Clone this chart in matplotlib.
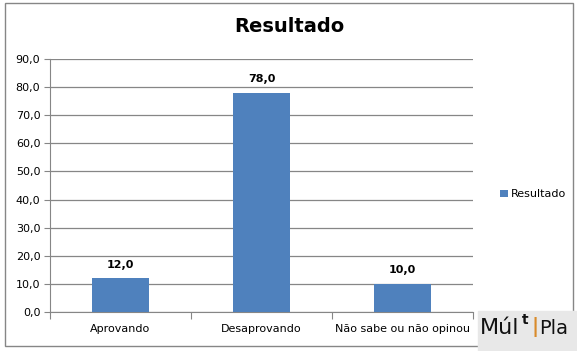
import matplotlib
matplotlib.use("Agg")
import matplotlib.pyplot as plt
from matplotlib.patches import Rectangle

categories = ["Aprovando", "Desaprovando", "Não sabe ou não opinou"]
values = [12.0, 78.0, 10.0]
series_name = "Resultado"
yticks = [0, 10, 20, 30, 40, 50, 60, 70, 80, 90]

bar_color = "#4F81BD"
grid_color = "#868686"

fig = plt.figure(figsize=(5.77, 3.51), dpi=100)
fig.patch.set_facecolor("white")

# outer chart border
fig.patches.append(Rectangle((5 / 577, 1 - 346 / 351), 568 / 577, 343 / 351,
                             transform=fig.transFigure, fill=False,
                             edgecolor=grid_color, linewidth=1))

ax = fig.add_axes([50 / 577, 1 - 312 / 351, 423 / 577, 253 / 351])
x = range(len(categories))
bars = ax.bar(x, values, width=0.4, color=bar_color, label=series_name, zorder=3)

ax.set_xlim(-0.5, len(categories) - 0.5)
ax.set_ylim(0, 90)
ax.set_yticks(yticks)
ax.set_yticklabels([f"{v:.1f}".replace(".", ",") for v in yticks], fontsize=8)
ax.yaxis.grid(True, color=grid_color, linewidth=0.9, zorder=0)
ax.tick_params(axis="y", length=4, color=grid_color, pad=3)

# category labels centred, tick marks at boundaries
ax.set_xticks([i - 0.5 for i in range(len(categories) + 1)])
ax.set_xticklabels([])
ax.tick_params(axis="x", length=5, color=grid_color)
for i, c in enumerate(categories):
    ax.text(i, -4.2, c, ha="center", va="top", fontsize=8)

for s in ["top", "right"]:
    ax.spines[s].set_visible(False)
for s in ["left", "bottom"]:
    ax.spines[s].set_color(grid_color)

for b, v in zip(bars, values):
    ax.text(b.get_x() + b.get_width() / 2, v + 3, f"{v:.1f}".replace(".", ","),
            ha="center", va="bottom", fontsize=8, fontweight="bold")

fig.text(289 / 577, 1 - 27 / 351, "Resultado", ha="center", va="center",
         fontsize=14, fontweight="bold")

ax.legend(loc="center left", bbox_to_anchor=(1.04, 0.465), frameon=False,
          fontsize=8, handlelength=0.7, handleheight=0.7, handletextpad=0.3)

# logo
fig.patches.append(Rectangle((478 / 577, 0), 99 / 577, 40 / 351,
                             transform=fig.transFigure, color="#e8e8e8"))
fig.text(480 / 577, 1 - 328 / 351, "Múl", fontsize=16, va="center", ha="left",
         color="#111111")
fig.text(522 / 577, 1 - 320 / 351, "t", fontsize=10, va="center", ha="left",
         color="#111111", fontweight="bold")
fig.text(531 / 577, 1 - 327 / 351, "|", fontsize=14, va="center", ha="left",
         color="#d98b2b", fontweight="bold")
fig.text(539 / 577, 1 - 328 / 351, "Pla", fontsize=14, va="center", ha="left",
         color="#111111")

fig.savefig("out.png", dpi=100)
